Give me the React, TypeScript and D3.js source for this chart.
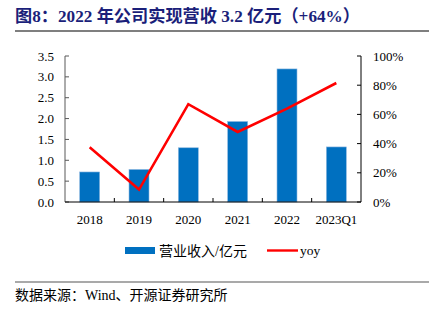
import React from "react";
import * as d3 from "d3";

const categories = ["2018", "2019", "2020", "2021", "2022", "2023Q1"];
const revenue = [0.72, 0.78, 1.3, 1.93, 3.19, 1.32];
const yoy = [37.5, 8.5, 67, 48, 64, 81.5];
const leftTicks = [0, 0.5, 1.0, 1.5, 2.0, 2.5, 3.0, 3.5];
const rightTicks = [0, 20, 40, 60, 80, 100];

const W = 429;
const H = 321;
const serif = "'Liberation Serif', 'Times New Roman', 'Noto Sans CJK SC', serif";
const cjk = "'Liberation Serif', 'Noto Sans CJK SC', serif";

export default function App() {
  const left = 65, right = 361, top = 56, bottom = 202;
  const x = d3.scaleBand<string>().domain(categories).range([left, right]).paddingInner(0).paddingOuter(0);
  const yL = d3.scaleLinear().domain([0, 3.5]).range([bottom, top]);
  const yR = d3.scaleLinear().domain([0, 100]).range([bottom, top]);
  const bw = 20;
  const line = d3.line<number>()
    .x((_, i) => (x(categories[i]) as number) + x.bandwidth() / 2)
    .y((d) => yR(d));
  const axisColor = "#595959";
  return (
    <svg width={W} height={H} style={{ position: "absolute", left: 0, top: 0, background: "#fff" }}>
      <text x={15} y={22} fontFamily={cjk} fontWeight="bold" fontSize={17.2} fill="#1b1f7a">
        图8：2022 年公司实现营收 3.2 亿元（+64%）
      </text>
      <line x1={15} x2={429} y1={31} y2={31} stroke="#555" strokeWidth={1.5} />

      {revenue.map((v, i) => (
        <rect key={i}
          x={(x(categories[i]) as number) + x.bandwidth() / 2 - bw / 2}
          y={yL(v)} width={bw} height={bottom - yL(v)}
          fill="#0070C0" stroke="#8fb8e0" strokeWidth={0.6} />
      ))}

      {/* left axis */}
      <line x1={left} x2={left} y1={top} y2={bottom} stroke={axisColor} strokeWidth={1} />
      {leftTicks.map((t) => (
        <g key={t}>
          <line x1={left} x2={left + 4} y1={yL(t)} y2={yL(t)} stroke={axisColor} />
          <text x={54} y={yL(t) + 4.5} textAnchor="end" fontFamily={serif} fontSize={13} fill="#000">
            {t.toFixed(1)}
          </text>
        </g>
      ))}
      {/* right axis */}
      <line x1={right} x2={right} y1={top} y2={bottom} stroke="#000" strokeWidth={1} />
      {rightTicks.map((t) => (
        <g key={t}>
          <line x1={right - 4} x2={right} y1={yR(t)} y2={yR(t)} stroke="#000" />
          <text x={373} y={yR(t) + 4.5} textAnchor="start" fontFamily={serif} fontSize={13} fill="#000">
            {t}%
          </text>
        </g>
      ))}
      {/* bottom axis */}
      <line x1={left} x2={right} y1={bottom} y2={bottom} stroke="#000" strokeWidth={1} />
      {categories.slice(1).map((c) => (
        <line key={c} x1={x(c) as number} x2={x(c) as number} y1={bottom} y2={bottom - 4} stroke="#000" />
      ))}
      {categories.map((c) => (
        <text key={c} x={(x(c) as number) + x.bandwidth() / 2} y={224} textAnchor="middle" fontFamily={serif} fontSize={13} fill="#000">
          {c}
        </text>
      ))}

      <path d={line(yoy) || ""} fill="none" stroke="#FF0000" strokeWidth={2.6} />

      {/* legend */}
      <rect x={125} y={247} width={30} height={7} fill="#0070C0" />
      <text x={159} y={255.5} fontFamily={cjk} fontSize={14} fill="#000">营业收入/亿元</text>
      <line x1={267} x2={298} y1={250.5} y2={250.5} stroke="#FF0000" strokeWidth={2.4} />
      <text x={300} y={255} fontFamily={serif} fontSize={13.5} fill="#000">yoy</text>

      <line x1={15} x2={429} y1={282} y2={282} stroke="#555" strokeWidth={1.2} />
      <text x={15} y={300} fontFamily={cjk} fontSize={14} fill="#000">数据来源：Wind、开源证券研究所</text>
    </svg>
  );
}
